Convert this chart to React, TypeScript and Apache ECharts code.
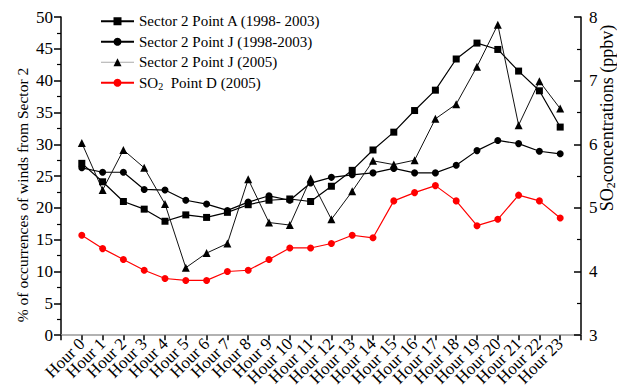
import React, { useEffect, useRef } from "react";
import * as echarts from "echarts";

// Hour-of-day labels for the x axis
const hours = [
  "Hour 0", "Hour 1", "Hour 2", "Hour 3", "Hour 4", "Hour 5",
  "Hour 6", "Hour 7", "Hour 8", "Hour 9", "Hour 10", "Hour 11",
  "Hour 12", "Hour 13", "Hour 14", "Hour 15", "Hour 16", "Hour 17",
  "Hour 18", "Hour 19", "Hour 20", "Hour 21", "Hour 22", "Hour 23",
];

// % of occurrences of winds from Sector 2
const pointA9803 = [27.0, 24.1, 21.0, 19.8, 17.9, 18.9, 18.5, 19.3, 20.5, 21.2, 21.4, 21.0, 23.4, 25.9, 29.1, 31.9, 35.3, 38.5, 43.4, 45.9, 44.9, 41.5, 38.4, 32.7];
const pointJ9803 = [26.3, 25.6, 25.6, 22.9, 22.8, 21.2, 20.6, 19.6, 20.9, 21.9, 21.2, 23.9, 24.8, 25.2, 25.5, 26.2, 25.5, 25.5, 26.7, 29.0, 30.6, 30.1, 28.9, 28.5];
const pointJ2005 = [30.2, 22.8, 29.1, 26.3, 20.6, 10.6, 12.9, 14.4, 24.5, 17.7, 17.3, 24.6, 18.2, 22.6, 27.4, 26.8, 27.5, 34.0, 36.3, 42.2, 48.8, 33.0, 39.9, 35.6];

// SO2 concentrations at Point D, ppbv
const so2PointD = [4.57, 4.36, 4.19, 4.02, 3.89, 3.86, 3.86, 4.00, 4.02, 4.19, 4.37, 4.37, 4.44, 4.57, 4.53, 5.11, 5.24, 5.35, 5.11, 4.72, 4.82, 5.20, 5.11, 4.84];

const leftTicks = { min: 0, max: 50, interval: 5 };
const rightTicks = { min: 3, max: 8, interval: 1 };

const seriesNames = [
  "Sector 2 Point A (1998- 2003)",
  "Sector 2 Point J (1998-2003)",
  "Sector 2 Point J (2005)",
  "SO2 Point D (2005)",
];

// one empty slot on each side so the hours sit a full step in from the axes
const xCategories = ["", ...hours, ""];
const pad = (arr: number[]) => [null, ...arr, null];

const FONT = "'Liberation Serif', 'Times New Roman', serif";

export default function App() {
  const ref = useRef<HTMLDivElement>(null);

  useEffect(() => {
    if (!ref.current) return;
    const chart = echarts.init(ref.current, null, { renderer: "svg" });
    chart.setOption({
      animation: false,
      backgroundColor: "#fff",
      textStyle: { fontFamily: FONT, color: "#000" },
      grid: { left: 61, right: 36, top: 17, bottom: 51 },
      legend: {
        orient: "vertical",
        left: 100,
        top: 13,
        padding: 0,
        itemWidth: 33,
        itemHeight: 10,
        itemGap: 4,
        textStyle: {
          fontFamily: FONT,
          fontSize: 15,
          color: "#000",
          lineHeight: 16.5,
          rich: {
            n: { fontFamily: FONT, fontSize: 15, color: "#000", lineHeight: 16.5 },
            s: { fontFamily: FONT, fontSize: 10, color: "#000", lineHeight: 9, verticalAlign: "bottom" },
          },
        },
        formatter: (name: string) =>
          name.startsWith("SO2") ? "{n|SO}{s|2}{n|  Point D (2005)}" : name,
        data: [
          { name: seriesNames[0] },
          { name: seriesNames[1] },
          { name: seriesNames[2], lineStyle: { color: "#aaa", width: 1 } },
          { name: seriesNames[3] },
        ],
      },
      xAxis: {
        type: "category",
        data: xCategories,
        boundaryGap: false,
        axisLine: { show: true, lineStyle: { color: "#999", width: 1.5 } },
        axisTick: { show: true, interval: 0, length: 5, lineStyle: { color: "#000", width: 1.5 } },
        axisLabel: {
          interval: 0,
          rotate: 45,
          margin: 6,
          fontFamily: FONT,
          fontSize: 17,
          color: "#000",
        },
        splitLine: { show: false },
      },
      yAxis: [
        {
          type: "value",
          position: "left",
          ...leftTicks,
          axisLine: { show: true, lineStyle: { color: "#000", width: 1.5 } },
          axisTick: { show: true, length: 7, lineStyle: { color: "#000", width: 1.5 } },
          minorTick: { show: true, splitNumber: 2, length: 4, lineStyle: { color: "#000", width: 1.2 } },
          axisLabel: { margin: 8, fontFamily: FONT, fontSize: 17, color: "#000" },
          splitLine: { show: false },
        },
        {
          type: "value",
          position: "right",
          ...rightTicks,
          axisLine: { show: true, lineStyle: { color: "#000", width: 1.5 } },
          axisTick: { show: true, inside: true, length: 7, lineStyle: { color: "#000", width: 1.5 } },
          minorTick: { show: true, splitNumber: 2, length: 4, lineStyle: { color: "#000", width: 1.2 } },
          axisLabel: { margin: 8, fontFamily: FONT, fontSize: 17, color: "#000" },
          splitLine: { show: false },
        },
      ],
      graphic: [
        {
          type: "text",
          x: 22,
          y: 195,
          rotation: Math.PI / 2,
          style: {
            text: "% of occurrences of winds from Sector 2",
            font: `15.5px ${FONT}`,
            fill: "#000",
            textAlign: "center",
            textVerticalAlign: "middle",
          },
        },
        {
          type: "text",
          x: 607,
          y: 118,
          rotation: Math.PI / 2,
          style: {
            text: "{n|SO}{s|2}{n|concentrations (ppbv)}",
            font: `18px ${FONT}`,
            fill: "#000",
            textAlign: "center",
            textVerticalAlign: "middle",
            rich: {
              n: { fontFamily: FONT, fontSize: 18, fill: "#000", lineHeight: 20 },
              s: { fontFamily: FONT, fontSize: 12, fill: "#000", lineHeight: 10, verticalAlign: "bottom" },
            },
          },
        },
      ],
      series: [
        {
          name: seriesNames[0],
          type: "line",
          data: pad(pointA9803),
          symbol: "rect",
          symbolSize: 7,
          lineStyle: { color: "#000", width: 1.2 },
          itemStyle: { color: "#000" },
        },
        {
          name: seriesNames[1],
          type: "line",
          data: pad(pointJ9803),
          symbol: "circle",
          symbolSize: 7,
          lineStyle: { color: "#000", width: 1.2 },
          itemStyle: { color: "#000" },
        },
        {
          name: seriesNames[2],
          type: "line",
          data: pad(pointJ2005),
          symbol: "triangle",
          symbolSize: 8,
          lineStyle: { color: "#111", width: 1 },
          itemStyle: { color: "#000" },
        },
        {
          name: seriesNames[3],
          type: "line",
          yAxisIndex: 1,
          data: pad(so2PointD),
          symbol: "circle",
          symbolSize: 7,
          lineStyle: { color: "#f00", width: 1.2 },
          itemStyle: { color: "#f00" },
        },
      ],
    });
    return () => chart.dispose();
  }, []);

  return (
    <div
      ref={ref}
      style={{ position: "fixed", left: 0, top: 0, width: 617, height: 389, background: "#fff" }}
    />
  );
}
